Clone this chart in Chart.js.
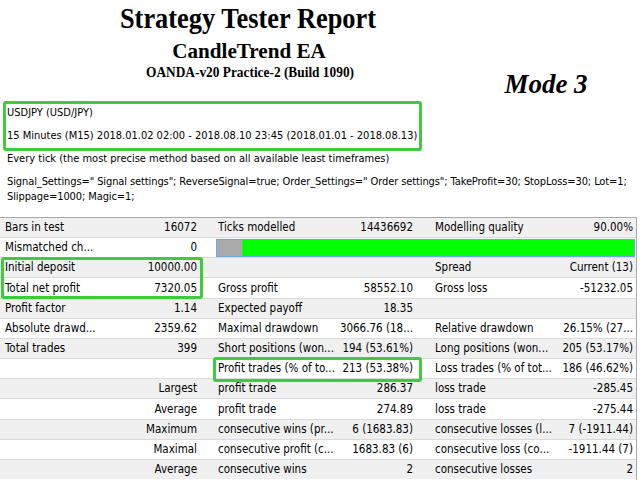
<!DOCTYPE html>
<html>
<head>
<meta charset="utf-8">
<script src="https://cdn.jsdelivr.net/npm/chart.js@4.4.0/dist/chart.umd.min.js"></script>
<style>
  body { margin: 0; width: 640px; height: 480px; overflow: hidden; background: #fff; position: relative;
         font-family: "DejaVu Sans Condensed", "DejaVu Sans", sans-serif; font-size: 11.5px; color: #000; }
  .t { position: absolute; white-space: nowrap; height: 40px; line-height: 40px; }
  .h { font-size: 11px; }
  .serif { font-family: "Liberation Serif", "Times New Roman", serif; font-weight: bold; }
  .row { position: absolute; left: 0; width: 636px; border-top: 1px solid #dadada; box-sizing: border-box; }
  .row.alt { background: #f0f0f0; }
  .c { position: absolute; top: 0; white-space: nowrap; }
  .box { position: absolute; border: 3px solid #3ccc3c; border-radius: 3px; box-sizing: border-box; }
  #bar { position: absolute; left: 216px; top: 239px; width: 419px; height: 18px;
         border: 1px solid #6ea8e4; box-sizing: border-box; background: #fff; }
</style>
</head>
<body>

<!-- ======= CABEÇALHO ======= -->
<div class="t serif" style="left:248px;top:-2px;font-size:30px;transform:translateX(-50%) scaleX(0.88)">Strategy Tester Report</div>
<div class="t serif" style="left:249px;top:31px;font-size:22px;transform:translateX(-50%) scaleX(0.96)">CandleTrend EA</div>
<div class="t serif" style="left:250px;top:52px;font-size:15px;transform:translateX(-50%) scaleX(0.89)">OANDA-v20 Practice-2 (Build 1090)</div>
<div class="t serif" style="left:546px;top:64px;font-size:27px;font-style:italic;transform:translateX(-50%)">Mode 3</div>

<div class="box" style="left:3px;top:101px;width:419px;height:50px"></div>
<div class="t h" style="left:7px;top:93px">USDJPY (USD/JPY)</div>
<div class="t h" style="left:7px;top:116px">15 Minutes (M15) 2018.01.02 02:00 - 2018.08.10 23:45 (2018.01.01 - 2018.08.13)</div>
<div class="t h" style="left:7px;top:139px">Every tick (the most precise method based on all available least timeframes)</div>
<div class="t h" style="left:7px;top:162px;letter-spacing:-0.1px">Signal_Settings=" Signal settings"; ReverseSignal=true; Order_Settings=" Order settings"; TakeProfit=30; StopLoss=30; Lot=1;</div>
<div class="t h" style="left:7px;top:177px;letter-spacing:-0.1px">Slippage=1000; Magic=1;</div>

<div id="table"></div>

<div id="bar"><canvas id="quality-chart" width="417" height="16"></canvas></div>

<script>
// ======= DADOS =======
const qualityLabels = ["Modelling quality"];
const greyPart = [6];
const greenPart = [94];

// cada linha: rótulo 1, valor 1, rótulo 2, valor 2, rótulo 3, valor 3
const rows = [
  ["Bars in test", "16072", "Ticks modelled", "14436692", "Modelling quality", "90.00%"],
  ["Mismatched ch...", "0", "", "", "", ""],
  ["Initial deposit", "10000.00", "", "", "Spread", "Current (13)"],
  ["Total net profit", "7320.05", "Gross profit", "58552.10", "Gross loss", "-51232.05"],
  ["Profit factor", "1.14", "Expected payoff", "18.35", "", ""],
  ["Absolute drawd...", "2359.62", "Maximal drawdown", "3066.76 (18...", "Relative drawdown", "26.15% (27..."],
  ["Total trades", "399", "Short positions (won...", "194 (53.61%)", "Long positions (won...", "205 (53.17%)"],
  ["", "", "Profit trades (% of to...", "213 (53.38%)", "Loss trades (% of tot...", "186 (46.62%)"],
  ["", "Largest", "profit trade", "286.37", "loss trade", "-285.45"],
  ["", "Average", "profit trade", "274.89", "loss trade", "-275.44"],
  ["", "Maximum", "consecutive wins (pr...", "6 (1683.83)", "consecutive losses (l...", "7 (-1911.44)"],
  ["", "Maximal", "consecutive profit (c...", "1683.83 (6)", "consecutive loss (co...", "-1911.44 (7)"],
  ["", "Average", "consecutive wins", "2", "consecutive losses", "2"]
];

// ======= TABELA =======
const table = document.getElementById("table");
const top0 = 217, rowH = 20.15;
const lefts = [5, null, 218, null, 435, null];
const rights = [null, 197, null, 413, null, 633];

rows.forEach((r, i) => {
  const y = Math.round(top0 + i * rowH);
  const h = Math.round(top0 + (i + 1) * rowH) - y;
  const div = document.createElement("div");
  div.className = "row" + (i % 2 === 0 ? " alt" : "");
  div.style.top = y + "px";
  div.style.height = h + "px";
  if (i === 0) div.style.borderTop = "1px solid #a9a9a9";
  r.forEach((txt, j) => {
    if (!txt) return;
    const c = document.createElement("div");
    c.className = "c";
    c.style.lineHeight = (h - 1) + "px";
    if (lefts[j] !== null) c.style.left = lefts[j] + "px";
    else c.style.right = (636 - rights[j]) + "px";
    c.textContent = txt;
    div.appendChild(c);
  });
  table.appendChild(div);
});

// borda direita
const edge = document.createElement("div");
edge.style.cssText = "position:absolute;left:636px;top:217px;width:1px;height:263px;background:#a9a9a9";
document.body.appendChild(edge);

// caixas verdes de destaque
[[1, 257, 202, 42], [213, 357, 209, 25]].forEach(([x, y, w, h]) => {
  const b = document.createElement("div");
  b.className = "box";
  b.style.cssText = `left:${x}px;top:${y}px;width:${w}px;height:${h}px`;
  document.body.appendChild(b);
});

// ======= BARRA DE QUALIDADE =======
const ctx = document.getElementById("quality-chart").getContext("2d");
new Chart(ctx, {
  type: "bar",
  data: {
    labels: qualityLabels,
    datasets: [
      { data: greyPart, backgroundColor: "#aaaaaa" },
      { data: greenPart, backgroundColor: "#00ff00" }
    ]
  },
  options: {
    indexAxis: "y",
    responsive: false,
    animation: false,
    layout: { padding: 0 },
    datasets: { bar: { barPercentage: 1, categoryPercentage: 1, borderWidth: 0 } },
    scales: {
      x: { stacked: true, min: 0, max: 100, display: false },
      y: { stacked: true, display: false }
    },
    plugins: { legend: { display: false }, tooltip: { enabled: false } }
  }
});
</script>
</body>
</html>
